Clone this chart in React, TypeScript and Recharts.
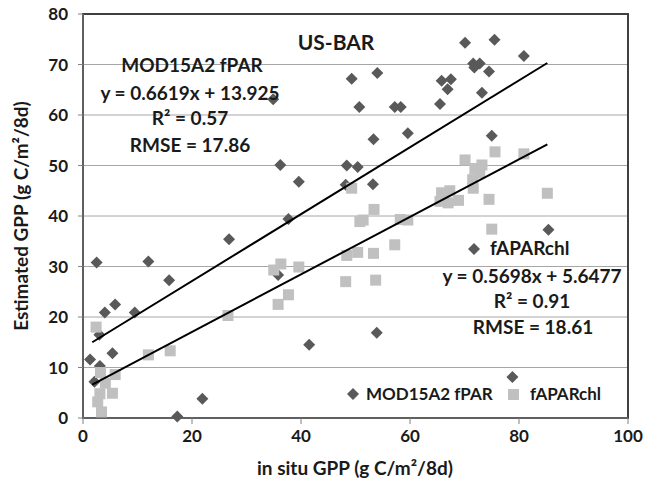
import {
  CartesianGrid,
  ReferenceArea,
  Scatter,
  ScatterChart,
  XAxis,
  YAxis,
} from "recharts";

// MOD15A2 fPAR estimates vs in situ GPP
const modPoints = [
  { x: 1.3, y: 11.6 }, { x: 2.1, y: 7.2 }, { x: 3.1, y: 10.3 }, { x: 3.0, y: 16.5 },
  { x: 2.5, y: 30.8 }, { x: 4.0, y: 20.9 }, { x: 5.4, y: 12.8 }, { x: 5.9, y: 22.5 },
  { x: 9.5, y: 20.9 }, { x: 12.0, y: 31.0 }, { x: 15.8, y: 27.3 }, { x: 17.3, y: 0.3 },
  { x: 21.9, y: 3.8 }, { x: 26.8, y: 35.4 }, { x: 34.9, y: 63.1 }, { x: 35.8, y: 28.3 },
  { x: 36.2, y: 50.1 }, { x: 37.7, y: 39.4 }, { x: 39.6, y: 46.8 }, { x: 41.5, y: 14.5 },
  { x: 48.2, y: 46.2 }, { x: 48.4, y: 50.0 }, { x: 49.3, y: 67.2 }, { x: 50.4, y: 49.7 },
  { x: 50.7, y: 61.6 }, { x: 53.2, y: 46.3 }, { x: 53.3, y: 55.2 }, { x: 53.9, y: 16.9 },
  { x: 54.0, y: 68.3 }, { x: 57.2, y: 61.6 }, { x: 58.3, y: 61.6 }, { x: 59.6, y: 56.4 },
  { x: 65.5, y: 62.2 }, { x: 65.8, y: 66.8 }, { x: 66.9, y: 65.1 }, { x: 67.5, y: 67.1 },
  { x: 70.1, y: 74.3 }, { x: 71.6, y: 70.2 }, { x: 71.8, y: 69.4 }, { x: 72.8, y: 70.2 },
  { x: 73.2, y: 64.4 }, { x: 74.5, y: 68.6 }, { x: 75.0, y: 55.9 }, { x: 75.5, y: 74.9 },
  { x: 78.8, y: 8.1 }, { x: 80.9, y: 71.7 }, { x: 85.4, y: 37.3 },
];

// fAPARchl estimates vs in situ GPP
const chlPoints = [
  { x: 2.4, y: 18.0 }, { x: 2.7, y: 3.2 }, { x: 3.1, y: 4.8 }, { x: 3.2, y: 9.0 },
  { x: 3.4, y: 1.2 }, { x: 4.1, y: 6.9 }, { x: 5.4, y: 4.9 }, { x: 5.9, y: 8.6 },
  { x: 12.0, y: 12.5 }, { x: 16.0, y: 13.3 }, { x: 26.6, y: 20.3 }, { x: 35.0, y: 29.3 },
  { x: 35.8, y: 22.5 }, { x: 36.3, y: 30.5 }, { x: 37.7, y: 24.4 }, { x: 39.6, y: 29.9 },
  { x: 48.2, y: 27.0 }, { x: 48.4, y: 32.2 }, { x: 49.3, y: 45.5 }, { x: 50.4, y: 32.8 },
  { x: 50.8, y: 38.9 }, { x: 51.4, y: 39.2 }, { x: 53.3, y: 32.6 }, { x: 53.4, y: 41.3 },
  { x: 53.7, y: 27.3 }, { x: 57.2, y: 34.3 }, { x: 58.2, y: 39.3 }, { x: 59.6, y: 39.2 },
  { x: 65.5, y: 42.9 }, { x: 65.8, y: 44.6 }, { x: 67.0, y: 42.6 }, { x: 67.3, y: 45.0 },
  { x: 68.9, y: 43.1 }, { x: 70.1, y: 51.1 }, { x: 71.5, y: 47.2 }, { x: 71.6, y: 45.5 },
  { x: 71.9, y: 49.4 }, { x: 72.8, y: 48.5 }, { x: 73.2, y: 50.1 }, { x: 74.5, y: 43.3 },
  { x: 75.0, y: 37.4 }, { x: 75.6, y: 52.7 }, { x: 80.9, y: 52.3 }, { x: 85.2, y: 44.5 },
];

// trendline end points
const modTrend = [{ x: 1.7, y: 15.0 }, { x: 85.2, y: 70.3 }];
const chlTrend = [{ x: 1.7, y: 6.6 }, { x: 85.2, y: 54.2 }];

const xTicks = [0, 20, 40, 60, 80, 100];
const yTicks = [0, 10, 20, 30, 40, 50, 60, 70, 80];

const DARK = "#595959";
const LIGHT = "#c0c0c0";
const TEXT = "#1a1a1a";
const FONT = "Lato, 'Noto Sans', sans-serif";

const Diamond = (p: any) => (
  <path
    d={`M${p.cx},${p.cy - 6}L${p.cx + 6},${p.cy}L${p.cx},${p.cy + 6}L${p.cx - 6},${p.cy}Z`}
    fill={DARK}
  />
);

const Square = (p: any) => (
  <rect x={p.cx - 5.5} y={p.cy - 5.5} width={11} height={11} fill={LIGHT} />
);

const NoMark = () => <g />;

export default function App() {
  const tick = { fontSize: 17, fontWeight: 700, fill: TEXT, fontFamily: FONT };
  return (
    <div style={{ position: "absolute", left: 0, top: 0, width: 666, height: 490, background: "#fff", fontFamily: FONT }}>
      <ScatterChart width={666} height={490} margin={{ top: 14, right: 38, left: 0, bottom: 0 }}>
        <CartesianGrid stroke="#a6a6a6" vertical={false} />
        <XAxis
          type="number"
          dataKey="x"
          domain={[0, 100]}
          ticks={xTicks}
          height={72}
          tickSize={6}
          tickMargin={6}
          tick={tick}
          stroke="#808080"
        />
        <YAxis
          type="number"
          dataKey="y"
          domain={[0, 80]}
          ticks={yTicks}
          width={83}
          tickSize={5}
          tickMargin={10}
          tick={tick}
          stroke="#808080"
        />
        <ReferenceArea x1={0} x2={100} y1={0} y2={80} fill="none" stroke="#404040" strokeWidth={2} />
        <Scatter data={modPoints} shape={Diamond} isAnimationActive={false} />
        <Scatter data={chlPoints} shape={Square} isAnimationActive={false} />
        <Scatter data={modTrend} shape={NoMark} line={{ stroke: "#000", strokeWidth: 2 }} isAnimationActive={false} />
        <Scatter data={chlTrend} shape={NoMark} line={{ stroke: "#000", strokeWidth: 2 }} isAnimationActive={false} />
      </ScatterChart>
      <svg
        width={666}
        height={490}
        style={{ position: "absolute", left: 0, top: 0, pointerEvents: "none", fontFamily: FONT }}
      >
        <g fontWeight={700} fill={TEXT} textAnchor="middle">
          <text x={336} y={50} fontSize={21}>US-BAR</text>
          <text x={192} y={72} fontSize={19}>MOD15A2 fPAR</text>
          <text x={190} y={100} fontSize={19}>y = 0.6619x + 13.925</text>
          <text x={190} y={125} fontSize={19}>R² = 0.57</text>
          <text x={190} y={152} fontSize={19}>RMSE = 17.86</text>
          <text x={532} y={283} fontSize={19}>y = 0.5698x + 5.6477</text>
          <text x={532} y={308} fontSize={19}>R² = 0.91</text>
          <text x={533} y={334} fontSize={19}>RMSE = 18.61</text>
          <text x={355} y={475} fontSize={19}>in situ GPP (g C/m²/8d)</text>
          <text transform="translate(28,216) rotate(-90)" fontSize={19}>Estimated GPP (g C/m²/8d)</text>
        </g>
        <path d="M474,243L480,249L474,255L468,249Z" fill={DARK} />
        <text x={490} y={255} fontSize={19} fontWeight={700} fill={TEXT}>fAPARchl</text>
        {/* legend */}
        <path d="M353,388L359,394L353,400L347,394Z" fill={DARK} />
        <text x={366} y={400} fontSize={17} fontWeight={700} fill={TEXT}>MOD15A2 fPAR</text>
        <rect x={508} y={389} width={11} height={11} fill={LIGHT} />
        <text x={530} y={400} fontSize={17} fontWeight={700} fill={TEXT}>fAPARchl</text>
      </svg>
    </div>
  );
}
